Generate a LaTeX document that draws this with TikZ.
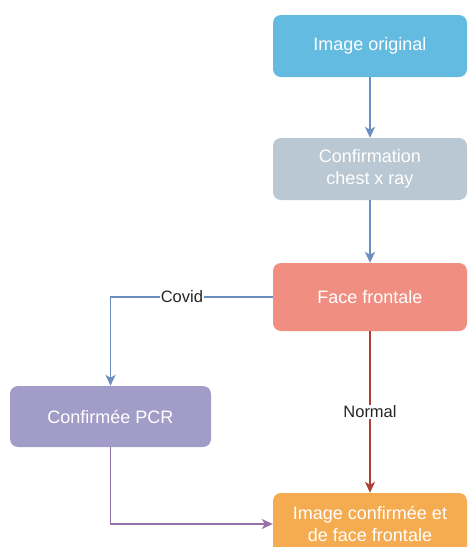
\documentclass[tikz,border=0pt]{standalone}
\usepackage{fontspec}
\setmainfont{Liberation Sans}
\usetikzlibrary{arrows.meta}
\definecolor{boxblue}{HTML}{64BBE2}
\definecolor{boxgray}{HTML}{BAC8D3}
\definecolor{boxred}{HTML}{F08E81}
\definecolor{boxlilac}{HTML}{A29DC8}
\definecolor{boxorange}{HTML}{F5AB50}
\definecolor{lineblue}{HTML}{6C8EBF}
\definecolor{linered}{HTML}{AE4132}
\definecolor{linelilac}{HTML}{9673A6}

\begin{document}
\begin{tikzpicture}[x=1pt, y=1pt,
        stepbox/.style={rounded corners=8pt, text=white, align=center,
            font=\fontsize{18}{22}\selectfont, minimum width=194pt, minimum height=62pt, inner sep=2pt},
        link/.style={line width=1.5pt, -{Stealth[length=11pt, width=10pt, inset=3pt]}},
        tag/.style={fill=white, text=black!85, font=\fontsize{16.5}{19}\selectfont, inner sep=1pt}]
        \useasboundingbox (0,0) rectangle (467,-547);

        % boxes
        \node[stepbox, fill=boxblue] (orig) at (370,-46) {Image original};
        \node[stepbox, fill=boxgray] (chest) at (370,-169) {Confirmation\\chest x ray};
        \node[stepbox, fill=boxred, minimum height=68pt] (face) at (370,-297) {Face frontale};
        \node[stepbox, fill=boxlilac, minimum width=201pt, minimum height=61pt] (pcr) at (110.5,-416.5) {Confirmée PCR};
        \node[stepbox, fill=boxorange] (final) at (370,-524) {Image confirmée et\\de face frontale};

        % links
        \draw[link, lineblue] (orig) -- (chest);
        \draw[link, lineblue] (chest) -- (face);
        \draw[link, lineblue] (face.west) -| node[tag, pos=0.28] {Covid} (pcr.north);
        \draw[link, linered] (face) -- node[tag] {Normal} (final);
        \draw[link, linelilac] (pcr.south) |- (final.west);
    \end{tikzpicture}
\end{document}
